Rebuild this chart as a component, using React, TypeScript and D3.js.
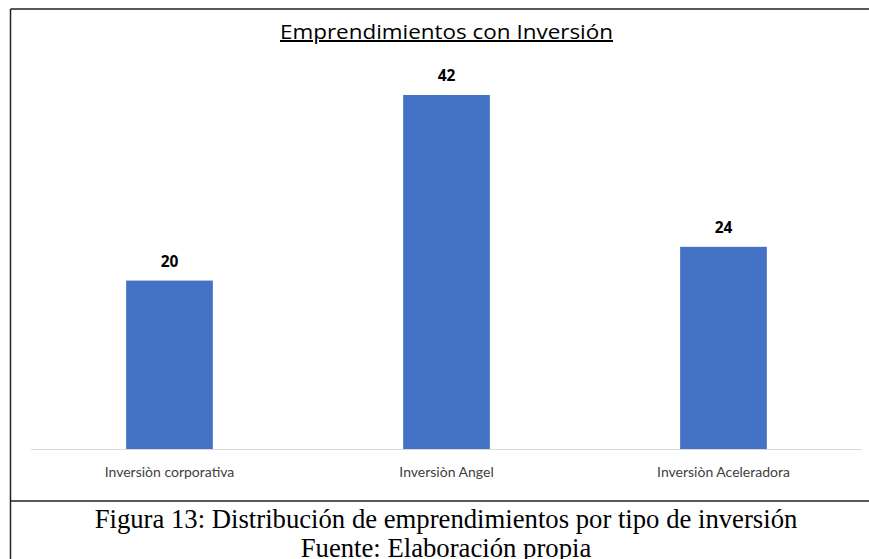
import React from "react";
import * as d3 from "d3";

const categories = ["Inversiòn corporativa", "Inversiòn Angel", "Inversiòn Aceleradora"];
const values = [20, 42, 24];
const title = "Emprendimientos con Inversión";
const caption1 = "Figura 13: Distribución de emprendimientos por tipo de inversión";
const caption2 = "Fuente: Elaboración propia";

const W = 869;
const H = 559;

export default function App() {
  const x = d3.scaleBand<string>().domain(categories).range([31, 862]).paddingInner(0.687).paddingOuter(0.3435);
  const y = d3.scaleLinear().domain([0, 45]).range([449.3, 449.3 - 45 * 8.436]);
  const sans = "'Open Sans', Lato, 'DejaVu Sans', sans-serif";
  const lato = "Lato, 'Open Sans', 'DejaVu Sans', sans-serif";
  const serif = "'Liberation Serif', 'Times New Roman', serif";
  return (
    <svg width={W} height={H} style={{ position: "absolute", left: 0, top: 0, background: "#fff" }}>
      <rect x={0} y={0} width={W} height={H} fill="#fff" />
      {/* frame */}
      <line x1={10.5} y1={9} x2={W} y2={9} stroke="#222" strokeWidth={1.5} />
      <line x1={10.5} y1={9} x2={10.5} y2={H} stroke="#222" strokeWidth={1.5} />
      <line x1={10.5} y1={501} x2={W} y2={501} stroke="#222" strokeWidth={1.5} />
      {/* title */}
      <text x={446.5} y={39} textAnchor="middle" fontFamily={sans} fontSize={20} fill="#000" textDecoration="underline"
        textLength={333} lengthAdjust="spacingAndGlyphs">
        {title}
      </text>
      {/* bars */}
      {values.map((v, i) => (
        <rect key={i} x={x(categories[i])} y={y(v)} width={x.bandwidth()} height={y(0) - y(v)} fill="#4472C4" />
      ))}
      {/* axis */}
      <line x1={31} x2={862} y1={449.5} y2={449.5} stroke="#d9d9d9" strokeWidth={1} />
      {values.map((v, i) => (
        <text key={"l" + i} x={(x(categories[i]) as number) + x.bandwidth() / 2} y={y(v) - 14} textAnchor="middle" fontFamily={sans} fontWeight="bold" fontSize={15.5} fill="#000">
          {v}
        </text>
      ))}
      {categories.map((c, i) => (
        <text key={"c" + i} x={(x(c) as number) + x.bandwidth() / 2} y={476.5} textAnchor="middle" fontFamily={lato} fontSize={14} fill="#404040">
          {c}
        </text>
      ))}
      <text x={446} y={528} textAnchor="middle" fontFamily={serif} fontSize={26.7} fill="#000">
        {caption1}
      </text>
      <text x={446} y={557} textAnchor="middle" fontFamily={serif} fontSize={26.7} fill="#000">
        {caption2}
      </text>
    </svg>
  );
}
